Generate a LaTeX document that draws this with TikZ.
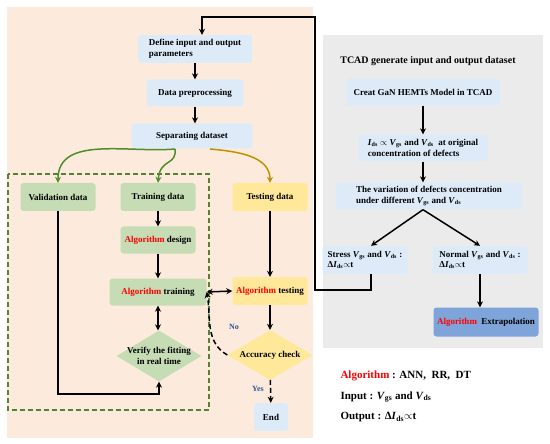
\documentclass[tikz,border=0pt]{standalone}
\usepackage{fontspec}
\setmainfont{Liberation Serif}
\usetikzlibrary{shapes.geometric,arrows.meta}
\definecolor{peach}{HTML}{FCEBDC}
\definecolor{panelgray}{HTML}{EBEBEB}
\definecolor{boxblue}{HTML}{DDEBF8}
\definecolor{boxgreen}{HTML}{C6DCB4}
\definecolor{boxyellow}{HTML}{FFE89A}
\definecolor{boxdeep}{HTML}{7FA4DA}
\definecolor{loopgreen}{HTML}{548235}
\definecolor{arrgreen}{HTML}{4F8C2B}
\definecolor{arrgold}{HTML}{BF9000}
\definecolor{answer}{HTML}{2F5597}
\newcommand{\algo}{\textcolor{red}{Algorithm}}
\newcommand{\ivar}[2]{\textit{#1}\textsubscript{#2}}
\tikzset{
  box/.style={rounded corners=3pt,inner sep=2pt,align=center,
    font=\bfseries\fontsize{9}{10.5}\selectfont},
  bluebox/.style={box,fill=boxblue},
  greenbox/.style={box,fill=boxgreen},
  yellowbox/.style={box,fill=boxyellow},
  deepbox/.style={box,fill=boxdeep},
  rhomb/.style={diamond,inner sep=0pt,minimum width=85pt,minimum height=51pt},
  arr/.style={line width=1.5pt,-{Stealth[length=6pt,width=6pt]}},
  dbl/.style={line width=1.5pt,{Stealth[length=6pt,width=6pt]}-{Stealth[length=6pt,width=6pt]}},
  dasharr/.style={arr,dash pattern=on 5pt off 3pt},
  legend/.style={anchor=west,font=\bfseries\fontsize{11}{13}\selectfont},
}
\begin{document}
\begin{tikzpicture}[x=1pt,y=1pt]
\useasboundingbox (0,0) rectangle (550,-444);
\fill[peach] (7,-7) rectangle (313,-438);
\fill[panelgray] (323,-35) rectangle (543,-348);
\draw[loopgreen,line width=1.5pt,dash pattern=on 5pt off 3pt] (8,-174) rectangle (209,-410);
% left flow
\node[bluebox,minimum width=114pt,minimum height=28pt,align=left] (define) at (195,-49) {Define input and output\\parameters};
\node[bluebox,minimum width=97pt,minimum height=27pt] (prep) at (195,-93) {Data preprocessing};
\node[bluebox,minimum width=121pt,minimum height=25pt] (sep) at (192,-136) {Separating dataset};
\node[greenbox,minimum width=75pt,minimum height=28pt] (valid) at (58,-197) {Validation data};
\node[greenbox,minimum width=75pt,minimum height=28pt] (train) at (158,-197) {Training data};
\node[yellowbox,minimum width=75pt,minimum height=28pt] (test) at (270,-197) {Testing data};
\node[greenbox,minimum width=75pt,minimum height=27pt] (design) at (158,-240) {\algo{} design};
\node[greenbox,minimum width=97pt,minimum height=27pt] (fit) at (158,-292) {\algo{} training};
\node[rhomb,fill=boxgreen] (verify) at (159,-356) {};
\node[box] (verifytxt) at (verify) {Verify the fitting\\in real time};
\node[yellowbox,minimum width=75pt,minimum height=28pt] (algtest) at (270,-291) {\algo{} testing};
\node[rhomb,fill=boxyellow,minimum height=50pt] (acc) at (270,-355) {};
\node[box] (acctxt) at (acc) {Accuracy check};
\node[bluebox,minimum width=34pt,minimum height=28pt] (end) at (271,-417) {End};
\coordinate (split) at (175,-149);
\coordinate (gsplit) at (210,-149);
\coordinate (vbot) at (100,-394);
% right panel
\node[font=\bfseries\fontsize{10}{12}\selectfont] (title) at (428,-61) {TCAD generate input and output dataset};
\node[bluebox,minimum width=154pt,minimum height=27pt] (model) at (423,-92) {Creat GaN HEMTs Model in TCAD};
\node[bluebox,minimum width=129pt,minimum height=27pt,align=left] (orig) at (423,-148) {\ivar{I}{ds} $\propto$ \ivar{V}{gs} and \ivar{V}{ds}\ \ at original\\concentration of defects};
\node[bluebox,minimum width=186pt,minimum height=27pt,align=left] (vary) at (429,-196) {The variation of defects concentration\\under different \ivar{V}{gs} and \ivar{V}{ds}};
\node[bluebox,minimum width=85pt,minimum height=28pt,align=left] (stress) at (365,-260) {Stress \ivar{V}{gs} and \ivar{V}{ds} :\\Δ\ivar{I}{ds}$\propto$t};
\node[bluebox,minimum width=95pt,minimum height=28pt,align=left] (normal) at (480,-260) {Normal \ivar{V}{gs} and \ivar{V}{ds} :\\Δ\ivar{I}{ds}$\propto$t};
\node[deepbox,minimum width=105pt,minimum height=29pt] (extra) at (486,-322) {\algo\ \ Extrapolation};
\coordinate (loopcorner) at (315,-290);
\coordinate (looptop) at (315,-17);
% legend
\node[legend] (leg1) at (337,-376) {\algo\ : ANN,\ \ RR,\ \ DT};
\node[legend] (leg2) at (337,-397) {Input : \ivar{V}{gs} and \ivar{V}{ds}};
\node[legend] (leg3) at (337,-417) {Output : Δ\ivar{I}{ds}$\propto$t};
% connectors
\draw[arr] (define) -- (prep);
\draw[arr] (prep.south) -- (prep.south |- sep.north);
\draw[arr,arrgreen] (split) to[out=185,in=90] (valid.north);
\draw[arr,arrgreen] (split) .. controls (177,-166) and (160,-158) .. (train.north);
\draw[arr,arrgold] (gsplit) to[out=-5,in=90] (test.north);
\draw[arr] (train) -- (design);
\draw[arr] (design) -- (fit);
\draw[dbl] (fit.south) -- (fit.south |- verify.north);
\draw[arr] (valid.south) |- (vbot) -| (verify.south);
\draw[arr] (test) -- (algtest);
\draw[dbl] (fit.east) -- (algtest.west);
\draw[arr] (algtest) -- (acc);
\draw[dasharr] (acc.west) to[out=150,in=-80] (fit.east);
\draw[dasharr] (acc) -- (end);
\node[font=\bfseries\fontsize{8}{9}\selectfont,text=answer] (no) at (234,-327) {No};
\node[font=\bfseries\fontsize{8}{9}\selectfont,text=answer] (yes) at (258,-389) {Yes};
\draw[arr] (model) -- (orig);
\draw[arr] (orig.south) -- (orig.south |- vary.north);
\draw[arr] (orig.south |- vary.south) -- ([xshift=6pt]stress.north);
\draw[arr] (orig.south |- vary.south) -- (normal.north);
\draw[arr] (normal.south) -- (normal.south |- extra.north);
\draw[arr] ([xshift=6pt]stress.south) |- (loopcorner) -- (looptop) -| ([xshift=7pt]define.north);
\end{tikzpicture}
\end{document}
